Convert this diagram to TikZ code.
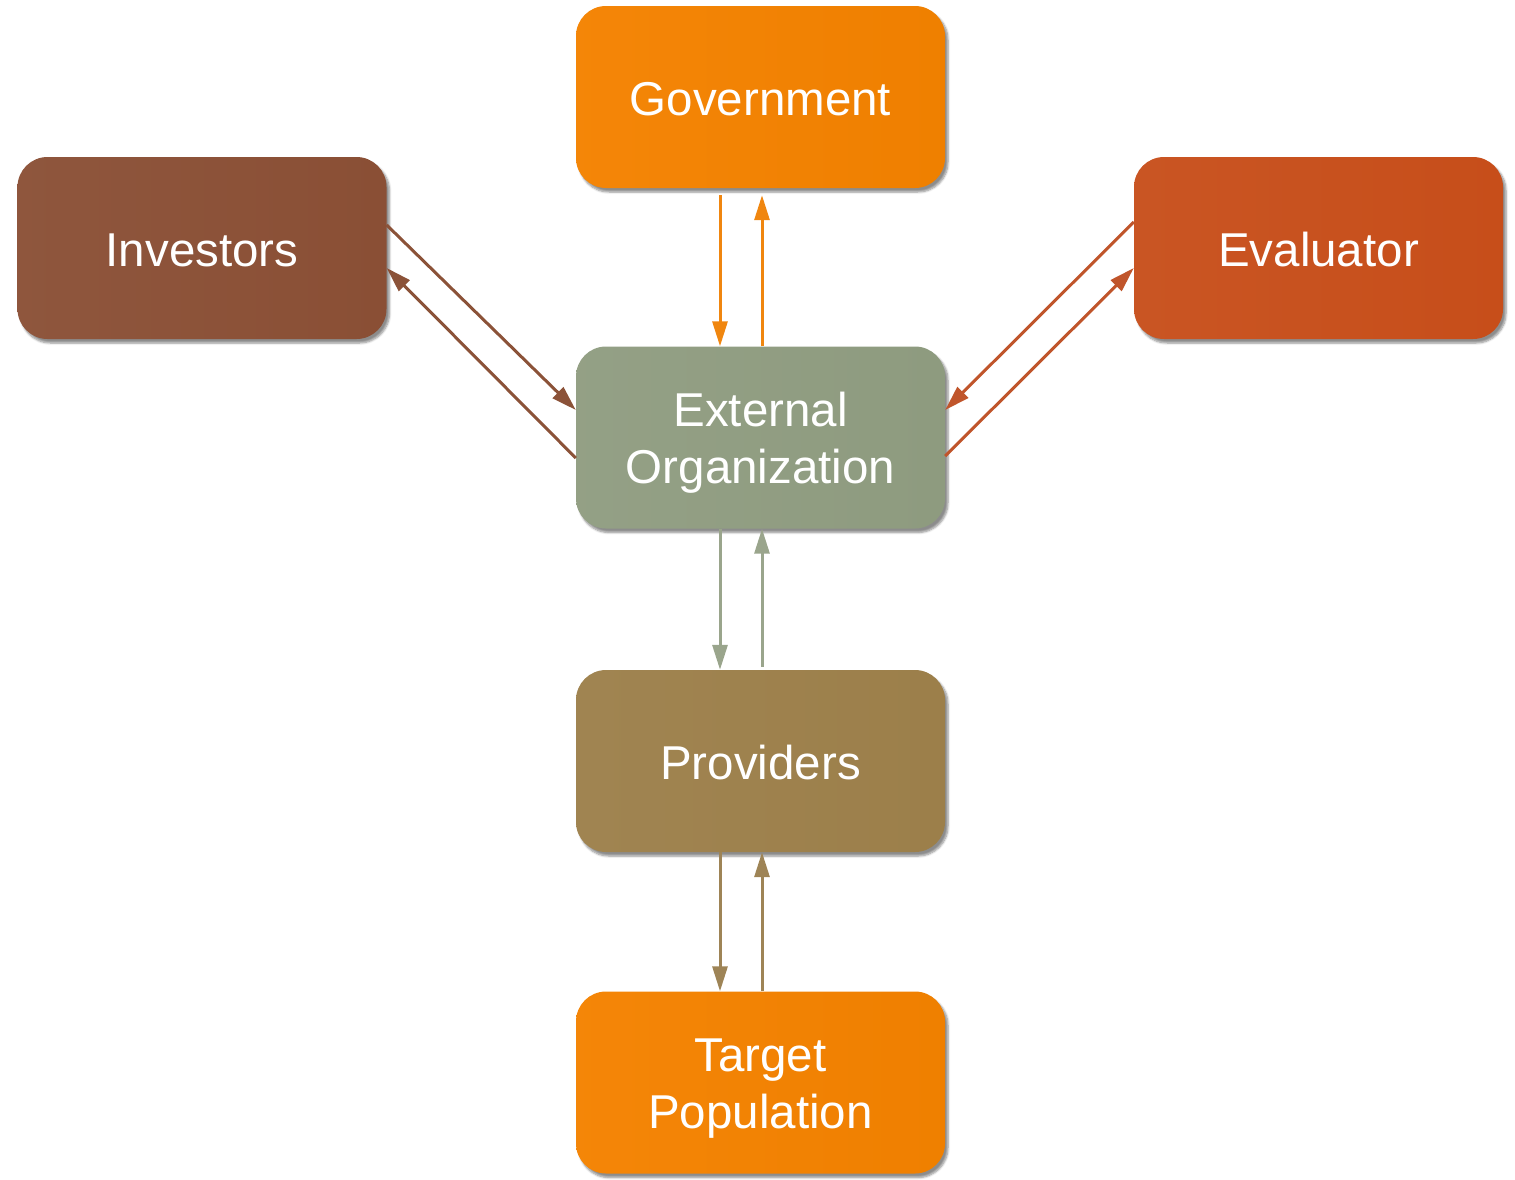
\documentclass[tikz,border=0pt]{standalone}
\usepackage{fontspec}
\setmainfont{Liberation Sans}
\usetikzlibrary{arrows.meta,shadows.blur}
\definecolor{cgov}{HTML}{F48200}
\definecolor{cinv}{HTML}{8A4F35}
\definecolor{ceval}{HTML}{C74E1A}
\definecolor{cext}{HTML}{8E9B7F}
\definecolor{cprov}{HTML}{9C7F4A}
\definecolor{cgova}{HTML}{F0860F}
\definecolor{cinva}{HTML}{8B5238}
\definecolor{cevala}{HTML}{C0552B}
\definecolor{cexta}{HTML}{9AA58C}
\definecolor{cprova}{HTML}{9E8456}
\newcommand{\twolines}[2]{\raisebox{0pt}[\dimexpr\height+12pt\relax]{\begin{tabular}{@{}c@{}}#1\\#2\end{tabular}}}
\newcommand{\oneline}[1]{\raisebox{0pt}[\dimexpr\height+4pt\relax]{#1}}
\tikzset{
  box/.style={rectangle, rounded corners=30pt, minimum width=369pt, minimum height=182pt,
    text=white, align=center, font=\fontsize{47.5}{57}\selectfont,
    blur shadow={shadow xshift=3pt, shadow yshift=-4pt, shadow blur steps=6, shadow opacity=45}},
  link/.style={line width=3pt, -{Triangle[width=15pt,length=25pt]}}
}
\begin{document}
\begin{tikzpicture}[x=1pt,y=-1pt]
\useasboundingbox (0,0) rectangle (1515,1179);
\node[box, left color=cgov!97!white, right color=cgov!98!black] (gov) at (760.5,97) {\oneline{Government}};
\node[box, left color=cinv!96!white, right color=cinv] (inv) at (202,248) {\oneline{Investors}};
\node[box, left color=ceval!96!white, right color=ceval] (eval) at (1318.5,248) {\oneline{Evaluator}};
\node[box, left color=cext!95!white, right color=cext] (ext) at (760.5,437.5) {\twolines{External}{Organization}};
\node[box, left color=cprov!96!white, right color=cprov] (prov) at (760.5,761) {\oneline{Providers}};
\node[box, left color=cgov!97!white, right color=cgov!98!black] (tgt) at (760.5,1082.5) {\twolines{Target}{Population}};
% government
\draw[link, cgova] ([xshift=-40.5pt,yshift=-7pt]gov.south) -- ([xshift=-40.5pt]ext.north);
\draw[link, cgova] ([xshift=1.5pt]ext.north) -- ([xshift=1.5pt,yshift=-7pt]gov.south);
% investors
\draw[link, cinva] ([yshift=23pt]inv.east) -- ([yshift=27.5pt]ext.west);
\draw[link, cinva] ([yshift=-20.5pt]ext.west) -- ([yshift=-20pt]inv.east);
% evaluator
\draw[link, cevala] ([yshift=26pt]eval.west) -- ([yshift=27.5pt]ext.east);
\draw[link, cevala] ([yshift=-18.5pt]ext.east) -- ([yshift=-20pt]eval.west);
% providers
\draw[link, cexta] ([xshift=-40.5pt]ext.south) -- ([xshift=-40.5pt]prov.north);
\draw[link, cexta] ([xshift=1.5pt,yshift=3pt]prov.north) -- ([xshift=1.5pt]ext.south);
% target
\draw[link, cprova] ([xshift=-40.5pt]prov.south) -- ([xshift=-40.5pt]tgt.north);
\draw[link, cprova] ([xshift=1.5pt]tgt.north) -- ([xshift=1.5pt]prov.south);
\end{tikzpicture}
\end{document}
